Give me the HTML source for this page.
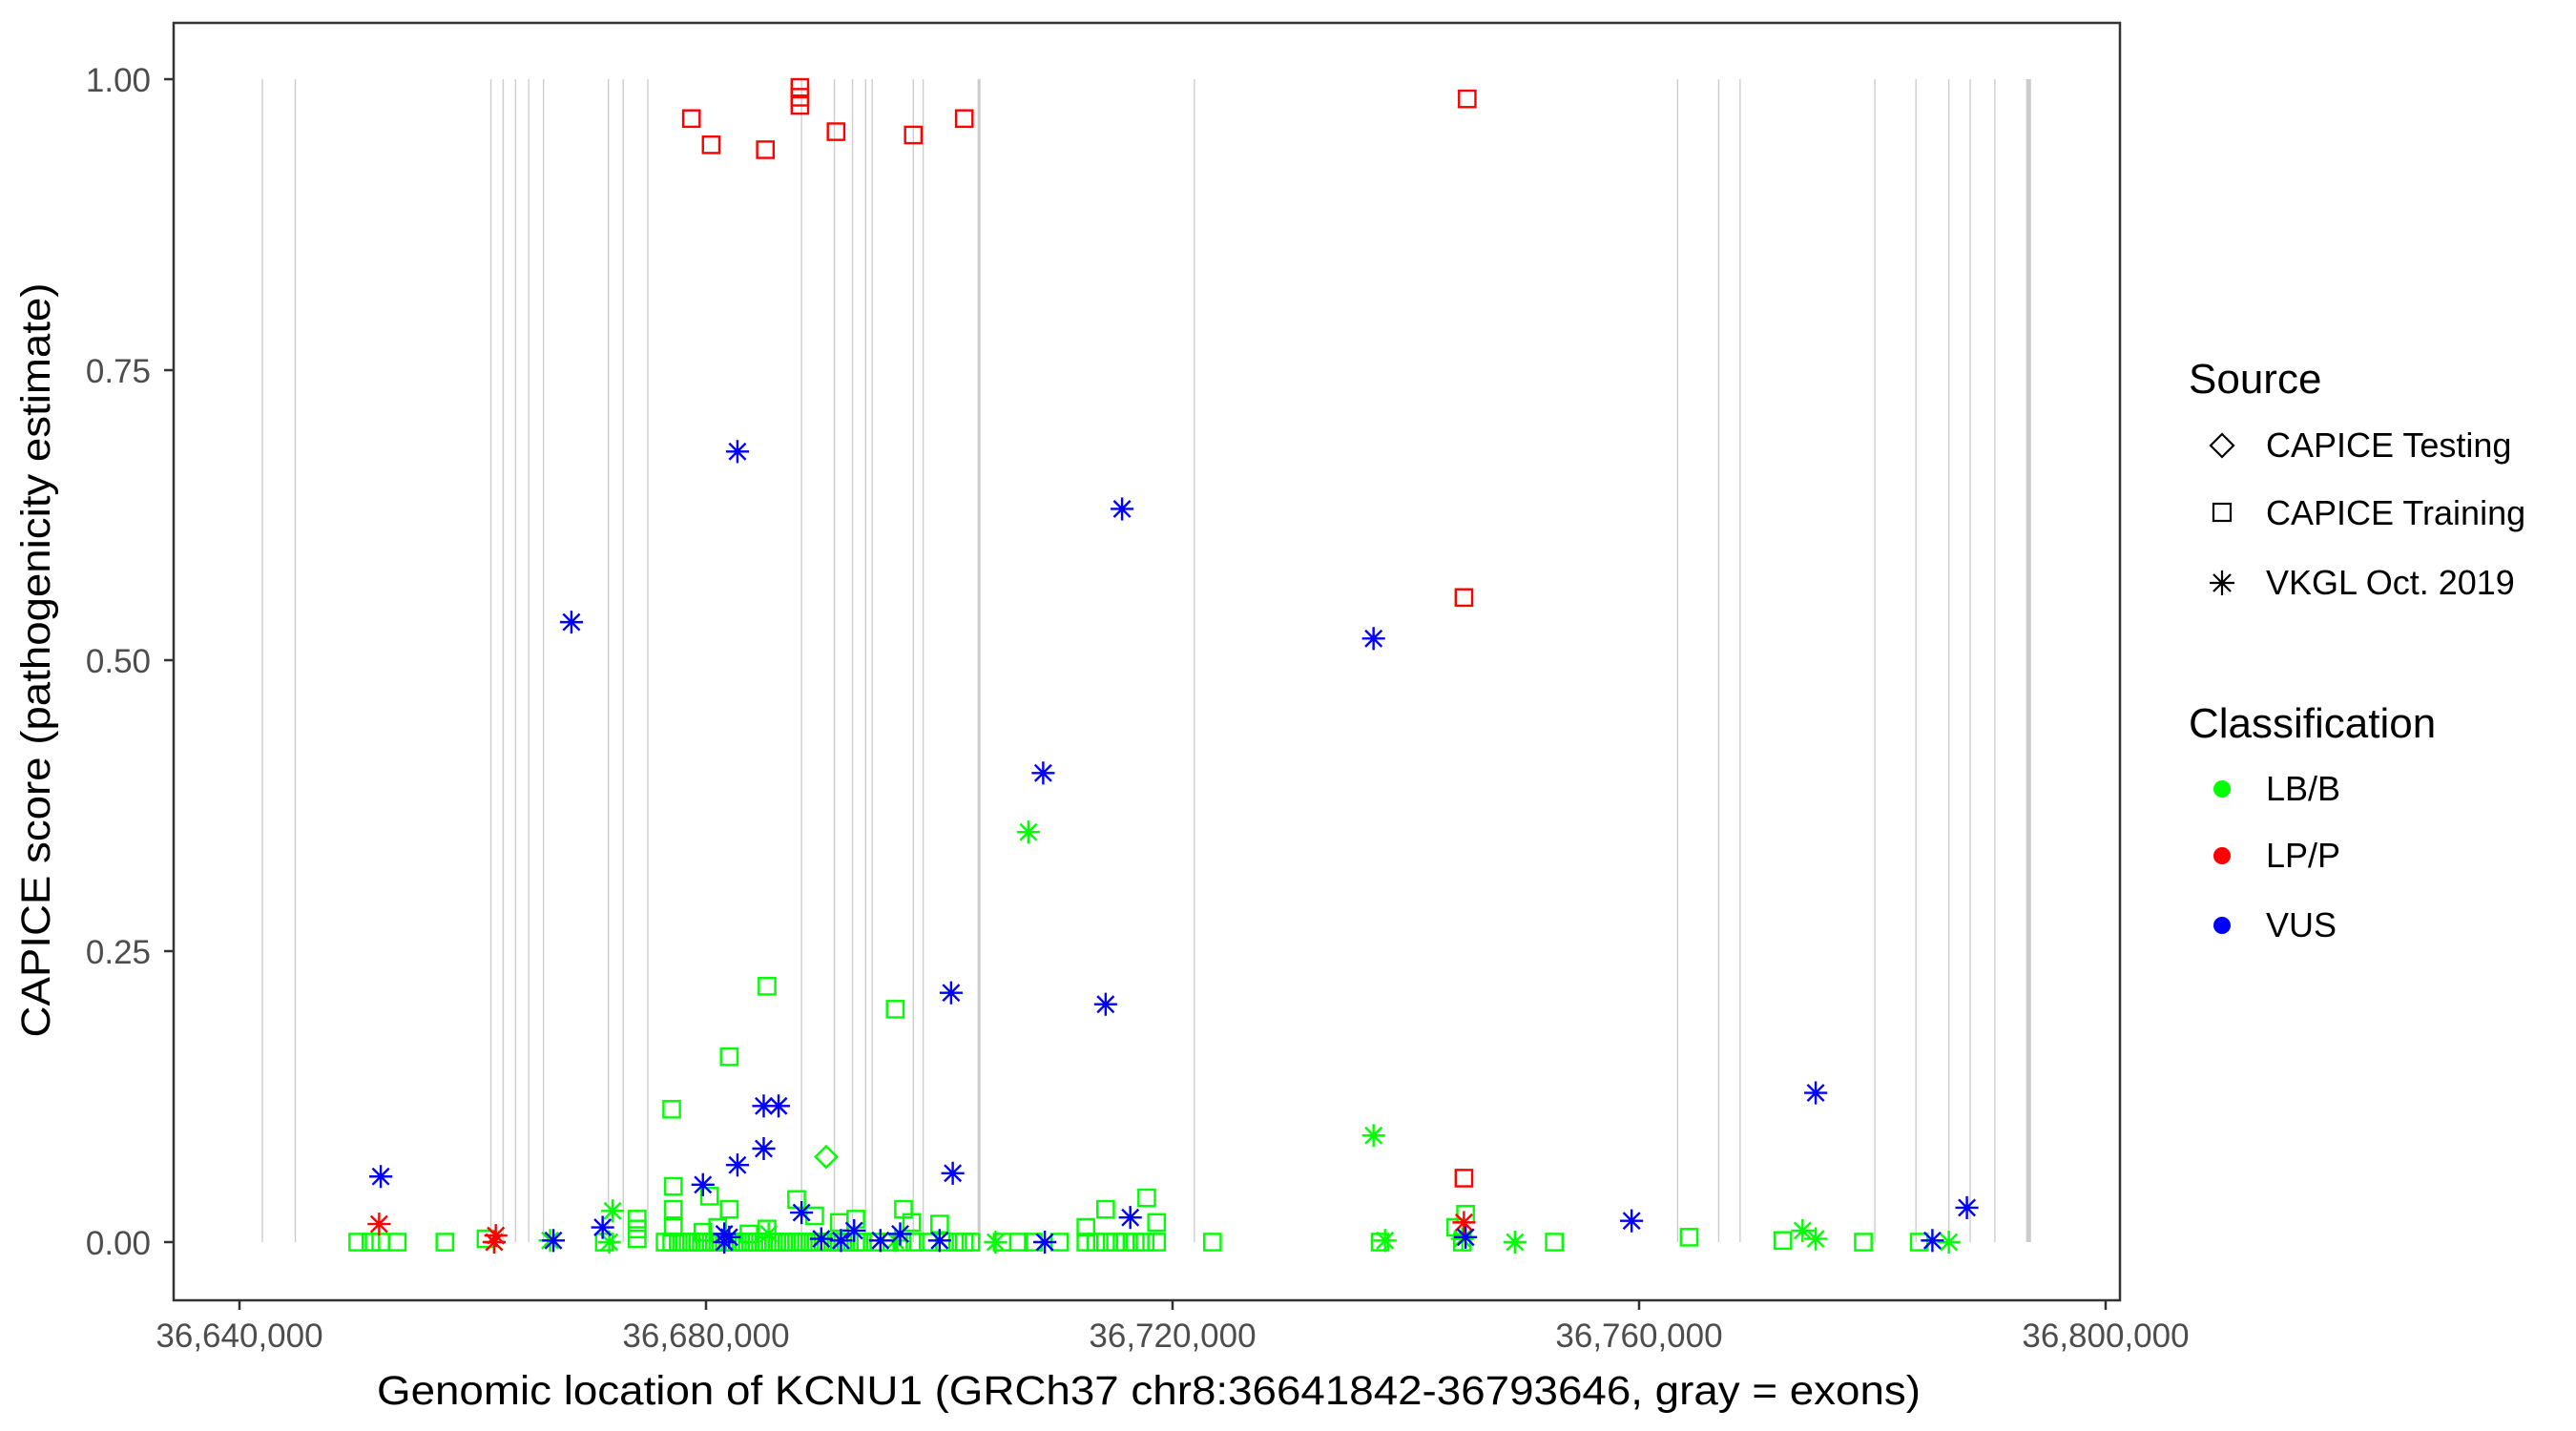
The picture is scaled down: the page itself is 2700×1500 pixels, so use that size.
<!DOCTYPE html>
<html><head><meta charset="utf-8"><style>
html,body{margin:0;padding:0;background:#fff;}
svg{display:block;font-family:"Liberation Sans",Arial,sans-serif;}
</style></head><body>
<svg width="2700" height="1500" viewBox="0 0 2700 1500" xmlns="http://www.w3.org/2000/svg">
<defs>
<g id="sq"><rect x="-5" y="-5" width="10" height="10" fill="none" stroke-width="1.4"/></g>
<g id="as"><path d="M0,-7V7M-7,0H7M-5,-5L5,5M-5,5L5,-5" fill="none" stroke-width="1.4"/></g>
<g id="di"><path d="M0,-6.5L6.5,0L0,6.5L-6.5,0Z" fill="none" stroke-width="1.4"/></g>
</defs>
<rect x="0" y="0" width="2700" height="1500" fill="#fff"/>
<g transform="matrix(1.7228 0 0 1.7193 -0.6 0.5)">
<g stroke="#cccccc" stroke-width="0.8">
<line x1="160" y1="48" x2="160" y2="757"/><line x1="180" y1="48" x2="180" y2="757"/>
<line x1="299" y1="48" x2="299" y2="757"/><line x1="306.5" y1="48" x2="306.5" y2="757"/>
<line x1="314" y1="48" x2="314" y2="757"/><line x1="322" y1="48" x2="322" y2="757"/>
<line x1="331" y1="48" x2="331" y2="757"/><line x1="370.5" y1="48" x2="370.5" y2="757"/>
<line x1="379.5" y1="48" x2="379.5" y2="757"/><line x1="394.5" y1="48" x2="394.5" y2="757"/>
<line x1="488" y1="48" x2="488" y2="757"/><line x1="508" y1="48" x2="508" y2="757"/>
<line x1="519" y1="48" x2="519" y2="757"/><line x1="527" y1="48" x2="527" y2="757"/>
<line x1="531" y1="48" x2="531" y2="757"/><line x1="556" y1="48" x2="556" y2="757"/>
<line x1="562" y1="48" x2="562" y2="757"/><line x1="596" y1="48" x2="596" y2="757" stroke-width="1.8"/>
<line x1="727" y1="48" x2="727" y2="757"/><line x1="1021" y1="48" x2="1021" y2="757"/>
<line x1="1046" y1="48" x2="1046" y2="757"/><line x1="1059" y1="48" x2="1059" y2="757"/>
<line x1="1141" y1="48" x2="1141" y2="757"/><line x1="1166" y1="48" x2="1166" y2="757"/>
<line x1="1186" y1="48" x2="1186" y2="757"/><line x1="1199" y1="48" x2="1199" y2="757"/>
<line x1="1214" y1="48" x2="1214" y2="757"/><line x1="1234.5" y1="48" x2="1234.5" y2="757" stroke-width="3"/>
</g>
<g stroke="#00ff00">
<use href="#sq" x="405" y="757"/><use href="#sq" x="409" y="757"/><use href="#sq" x="413" y="757"/><use href="#sq" x="417" y="757"/><use href="#sq" x="421" y="757"/><use href="#sq" x="425" y="757"/><use href="#sq" x="429" y="757"/><use href="#sq" x="433" y="757"/><use href="#sq" x="437" y="757"/><use href="#sq" x="441" y="757"/><use href="#sq" x="445" y="757"/><use href="#sq" x="449" y="757"/><use href="#sq" x="453" y="757"/><use href="#sq" x="457" y="757"/><use href="#sq" x="461" y="757"/><use href="#sq" x="465" y="757"/><use href="#sq" x="469" y="757"/><use href="#sq" x="473" y="757"/><use href="#sq" x="477" y="757"/><use href="#sq" x="481" y="757"/><use href="#sq" x="485" y="757"/><use href="#sq" x="489" y="757"/><use href="#sq" x="493" y="757"/><use href="#sq" x="497" y="757"/><use href="#sq" x="501" y="757"/><use href="#sq" x="505" y="757"/><use href="#sq" x="509" y="757"/><use href="#sq" x="513" y="757"/><use href="#sq" x="517" y="757"/><use href="#sq" x="521" y="757"/><use href="#sq" x="525" y="757"/><use href="#sq" x="533" y="757"/><use href="#sq" x="541" y="757"/><use href="#sq" x="549" y="757"/><use href="#sq" x="557" y="757"/><use href="#sq" x="565" y="757"/><use href="#sq" x="575" y="757"/><use href="#sq" x="583" y="757"/><use href="#sq" x="587" y="757"/><use href="#sq" x="591" y="757"/><use href="#sq" x="610" y="757"/><use href="#sq" x="620" y="757"/><use href="#sq" x="629" y="757"/><use href="#sq" x="645" y="757"/><use href="#sq" x="661" y="757"/><use href="#sq" x="667" y="757"/><use href="#sq" x="673" y="757"/><use href="#sq" x="679" y="757"/><use href="#sq" x="685" y="757"/><use href="#sq" x="691" y="757"/><use href="#sq" x="697" y="757"/><use href="#sq" x="704" y="757"/>
<use href="#sq" x="218" y="757"/><use href="#sq" x="226" y="757"/><use href="#sq" x="232" y="757"/><use href="#sq" x="242" y="757"/><use href="#sq" x="271" y="757"/><use href="#sq" x="296" y="755"/><use href="#sq" x="368" y="757"/><use href="#sq" x="388" y="755"/><use href="#sq" x="388" y="749"/><use href="#sq" x="388" y="743"/>
<use href="#sq" x="738" y="757"/><use href="#sq" x="946" y="757"/><use href="#sq" x="1028" y="754"/><use href="#sq" x="1085" y="756"/><use href="#sq" x="1134" y="757"/><use href="#sq" x="1168" y="757"/><use href="#sq" x="840" y="757"/><use href="#sq" x="890" y="757"/><use href="#sq" x="886" y="748"/><use href="#sq" x="892" y="740"/>
<use href="#sq" x="467" y="601"/><use href="#sq" x="545" y="615"/><use href="#sq" x="444" y="644"/><use href="#sq" x="409" y="676"/><use href="#sq" x="410" y="723"/><use href="#sq" x="410" y="737"/><use href="#sq" x="410" y="748"/><use href="#sq" x="432" y="729"/><use href="#sq" x="444" y="737"/><use href="#sq" x="485" y="731"/><use href="#sq" x="550" y="737"/><use href="#sq" x="555" y="745"/><use href="#sq" x="572" y="746"/><use href="#sq" x="673" y="737"/><use href="#sq" x="698" y="730"/><use href="#sq" x="704" y="745"/><use href="#sq" x="661" y="748"/><use href="#sq" x="521" y="743"/><use href="#sq" x="511" y="745"/><use href="#sq" x="496" y="741"/><use href="#sq" x="467" y="749"/><use href="#sq" x="437" y="748"/><use href="#sq" x="428" y="751"/><use href="#sq" x="456" y="752"/>
<use href="#di" x="503" y="705"/>
<use href="#as" x="626" y="507"/><use href="#as" x="836" y="692"/><use href="#as" x="373" y="738"/><use href="#as" x="1097" y="750"/><use href="#as" x="1105" y="755"/><use href="#as" x="843" y="756"/><use href="#as" x="922" y="757"/><use href="#as" x="1186" y="757"/><use href="#as" x="890" y="755"/><use href="#as" x="606" y="757"/><use href="#as" x="371" y="757"/><use href="#as" x="545" y="756"/><use href="#as" x="468" y="752"/><use href="#as" x="301" y="757"/><use href="#as" x="335" y="756"/>
</g>
<g stroke="#ff0000">
<use href="#sq" x="421" y="72"/><use href="#sq" x="433" y="88"/><use href="#sq" x="466" y="91"/><use href="#sq" x="487" y="53"/><use href="#sq" x="487" y="59"/><use href="#sq" x="487" y="64"/><use href="#sq" x="509" y="80"/><use href="#sq" x="556" y="82"/><use href="#sq" x="587" y="72"/><use href="#sq" x="893" y="60"/><use href="#sq" x="891" y="364"/><use href="#sq" x="891" y="718"/>
<use href="#as" x="231" y="746"/><use href="#as" x="302" y="753"/><use href="#as" x="301" y="757"/><use href="#as" x="891" y="745"/>
</g>
<g stroke="#0000ff">
<use href="#as" x="449" y="275"/><use href="#as" x="348" y="379"/><use href="#as" x="683" y="310"/><use href="#as" x="836" y="389"/><use href="#as" x="635" y="471"/><use href="#as" x="579" y="605"/><use href="#as" x="673" y="612"/><use href="#as" x="1105" y="666"/><use href="#as" x="465" y="674"/><use href="#as" x="474" y="674"/><use href="#as" x="232" y="717"/><use href="#as" x="580" y="715"/><use href="#as" x="449" y="710"/><use href="#as" x="465" y="700"/><use href="#as" x="428" y="722"/><use href="#as" x="488" y="739"/><use href="#as" x="688" y="742"/><use href="#as" x="993" y="744"/><use href="#as" x="1197" y="736"/><use href="#as" x="367" y="748"/><use href="#as" x="337" y="756"/><use href="#as" x="441" y="752"/><use href="#as" x="441" y="757"/><use href="#as" x="444" y="754"/><use href="#as" x="500" y="755"/><use href="#as" x="512" y="756"/><use href="#as" x="520" y="750"/><use href="#as" x="536" y="756"/><use href="#as" x="548" y="752"/><use href="#as" x="572" y="756"/><use href="#as" x="636" y="757"/><use href="#as" x="1176" y="756"/><use href="#as" x="892" y="754"/>
</g>
</g>
<rect x="182" y="24" width="2040" height="1339" fill="none" stroke="#333" stroke-width="2.5"/>
<g stroke="#333" stroke-width="2.5">
<line x1="172" y1="83" x2="182" y2="83"/><line x1="172" y1="388" x2="182" y2="388"/><line x1="172" y1="692" x2="182" y2="692"/><line x1="172" y1="997" x2="182" y2="997"/><line x1="172" y1="1302" x2="182" y2="1302"/>
<line x1="251" y1="1363" x2="251" y2="1373"/><line x1="740" y1="1363" x2="740" y2="1373"/><line x1="1229" y1="1363" x2="1229" y2="1373"/><line x1="1718" y1="1363" x2="1718" y2="1373"/><line x1="2207" y1="1363" x2="2207" y2="1373"/>
</g>
<g fill="#4d4d4d" font-size="35" text-anchor="end">
<text x="158" y="96">1.00</text><text x="158" y="401">0.75</text><text x="158" y="705">0.50</text><text x="158" y="1010">0.25</text><text x="158" y="1315">0.00</text>
</g>
<g fill="#4d4d4d" font-size="35" text-anchor="middle">
<text x="251" y="1412">36,640,000</text><text x="740" y="1412">36,680,000</text><text x="1229" y="1412">36,720,000</text><text x="1718" y="1412">36,760,000</text><text x="2207" y="1412">36,800,000</text>
</g>
<text x="1204" y="1472" font-size="43" text-anchor="middle" textLength="1618" lengthAdjust="spacingAndGlyphs">Genomic location of KCNU1 (GRCh37 chr8:36641842-36793646, gray = exons)</text>
<text transform="translate(52,692) rotate(-90)" font-size="43" text-anchor="middle" textLength="791" lengthAdjust="spacingAndGlyphs">CAPICE score (pathogenicity estimate)</text>
<text x="2294" y="412" font-size="44">Source</text>
<path d="M2317,467L2329,455L2341,467L2329,479Z" fill="none" stroke="#000" stroke-width="2.2"/>
<rect x="2320" y="528" width="18" height="18" fill="none" stroke="#000" stroke-width="2.2"/>
<path d="M2329,598V624M2316,611H2342M2320,602L2338,620M2320,620L2338,602" stroke="#000" stroke-width="2.2"/>
<g font-size="36"><text x="2375" y="479">CAPICE Testing</text><text x="2375" y="550">CAPICE Training</text><text x="2375" y="623">VKGL Oct. 2019</text></g>
<text x="2294" y="773" font-size="44">Classification</text>
<circle cx="2329" cy="827" r="9" fill="#00ff00"/><circle cx="2329" cy="897" r="9" fill="#ff0000"/><circle cx="2329" cy="970" r="9" fill="#0000ff"/>
<g font-size="36"><text x="2375" y="839">LB/B</text><text x="2375" y="909">LP/P</text><text x="2375" y="982">VUS</text></g>
</svg>
</body></html>
